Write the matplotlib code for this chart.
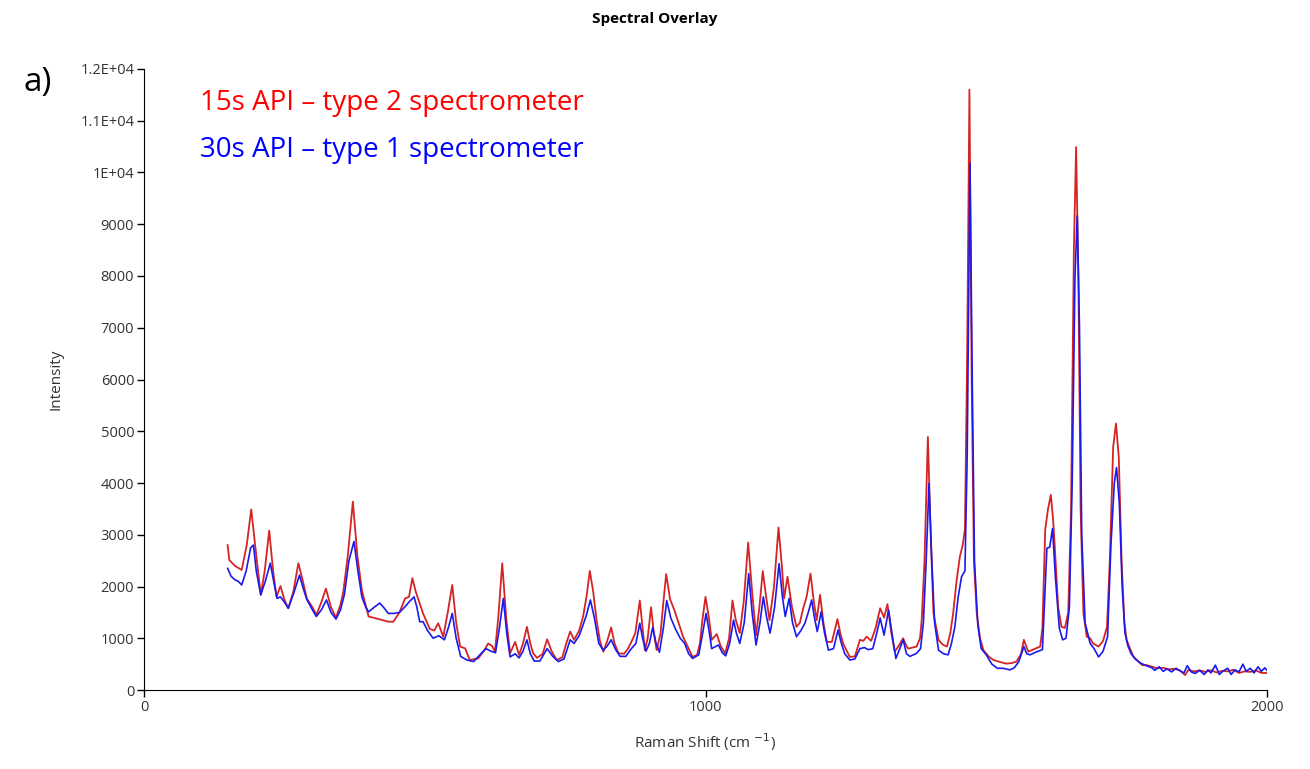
import matplotlib
matplotlib.use("Agg")
import matplotlib.pyplot as plt

# spectrum 1 (red) : 15s API, type 2 spectrometer
red_x = [149, 152, 162, 174, 183, 191, 200, 208, 215, 223, 230, 236, 243, 250, 257, 266, 275, 282, 290, 300,
         307, 316, 324, 333, 342, 350, 355, 363, 372, 380, 388, 400, 415, 425, 435, 444, 455, 465, 472, 478,
         484, 489, 497, 509, 517, 524, 533, 541, 549, 556, 563, 572, 580, 595, 605, 613, 620, 625, 631, 638,
         645, 652, 661, 668, 675, 682, 688, 693, 700, 710, 718, 726, 735, 745, 752, 759, 766, 775, 782, 788,
         794, 800, 806, 812, 818, 825, 832, 838, 845, 855, 862, 868, 875, 883, 888, 892, 897, 903, 908, 913,
         920, 925, 930, 937, 944, 952, 960, 970, 977, 985, 990, 995, 1000, 1006, 1011, 1020, 1027, 1035, 1042, 1048,
         1054, 1061, 1068, 1076, 1083, 1090, 1096, 1102, 1108, 1114, 1122, 1130, 1136, 1140, 1146, 1154, 1162, 1168, 1174, 1180,
         1187, 1193, 1198, 1204, 1210, 1216, 1225, 1235, 1240, 1245, 1257, 1266, 1275, 1281, 1287, 1295, 1303, 1311, 1318, 1324,
         1331, 1337, 1345, 1352, 1357, 1361, 1376, 1382, 1385, 1390, 1396, 1401, 1406, 1415, 1422, 1430, 1436, 1441, 1447, 1453,
         1458, 1462, 1466, 1470, 1474, 1478, 1483, 1489, 1495, 1505, 1513, 1525, 1536, 1545, 1554, 1562, 1567, 1571, 1575, 1585,
         1596, 1600, 1605, 1610, 1615, 1619, 1622, 1628, 1634, 1640, 1646, 1651, 1656, 1660, 1664, 1668, 1673, 1679, 1685, 1690,
         1700, 1708, 1715, 1720, 1726, 1731, 1736, 1741, 1746, 1750, 1756, 1762, 1770, 1778, 1786, 1795, 1805, 1815, 1825, 1835,
         1845, 1854, 1860, 1870, 1880, 1890, 1900, 1910, 1920, 1930, 1940, 1950, 1960, 1970, 1980, 1990, 2000]
red_y = [2800, 2510, 2400, 2320, 2800, 3490, 2600, 1840, 2300, 3080, 2300, 1800, 2010, 1750, 1580, 1900, 2450, 2150, 1770, 1600,
         1450, 1700, 1960, 1600, 1400, 1650, 1900, 2600, 3640, 2600, 1930, 1420, 1380, 1350, 1320, 1320, 1500, 1770, 1800, 2160,
         1900, 1740, 1480, 1180, 1150, 1290, 1030, 1500, 2030, 1300, 840, 805, 580, 610, 750, 900, 850, 740, 1400, 2450,
         1400, 710, 930, 680, 900, 1220, 900, 710, 620, 700, 980, 750, 580, 630, 900, 1130, 970, 1150, 1420, 1800,
         2300, 1900, 1350, 950, 740, 950, 1210, 900, 710, 700, 800, 930, 1100, 1730, 1200, 770, 1000, 1600, 1100, 770,
         1100, 1700, 2240, 1750, 1560, 1300, 1030, 800, 640, 680, 900, 1400, 1800, 1400, 970, 1080, 850, 710, 1000, 1730,
         1350, 1100, 1700, 2850, 1900, 1060, 1600, 2300, 1800, 1350, 2000, 3140, 2400, 1770, 2190, 1600, 1220, 1300, 1580, 1800,
         2250, 1700, 1350, 1840, 1300, 930, 930, 1370, 1100, 900, 640, 650, 970, 950, 1030, 950, 1200, 1580, 1400, 1660,
         1100, 740, 870, 1000, 870, 800, 840, 1000, 1350, 2500, 4890, 3000, 1480, 970, 880, 840, 1100, 1480, 2100, 2580,
         2800, 3100, 6500, 11600, 6000, 2500, 1480, 1000, 770, 640, 580, 540, 510, 520, 550, 700, 970, 850, 740, 790,
         840, 1200, 3100, 3500, 3770, 3300, 2770, 1600, 1220, 1200, 1500, 3500, 8500, 10490, 8000, 3500, 1480, 1030, 1000, 900,
         840, 950, 1220, 2500, 4700, 5150, 4500, 2500, 1300, 970, 800, 650, 560, 480, 480, 450, 420, 430, 400, 410,
         380, 290, 390, 360, 380, 350, 380, 340, 370, 360, 390, 330, 360, 350, 380, 330, 330]

# spectrum 2 (blue) : 30s API, type 1 spectrometer
blue_x = [149, 155, 162, 168, 174, 182, 190, 195, 200, 208, 216, 225, 231, 237, 243, 250, 257, 266, 277, 284,
          290, 300, 307, 316, 325, 333, 342, 350, 357, 365, 374, 381, 388, 395, 400, 410, 420, 428, 435, 445,
          455, 465, 472, 481, 486, 491, 497, 505, 515, 525, 535, 542, 549, 556, 564, 575, 587, 600, 609, 618,
          626, 633, 640, 646, 652, 661, 668, 675, 682, 688, 695, 705, 718, 728, 738, 748, 759, 766, 775, 782,
          788, 795, 802, 810, 818, 825, 832, 840, 848, 858, 868, 876, 883, 888, 894, 900, 906, 912, 918, 925,
          931, 938, 946, 955, 963, 970, 977, 988, 995, 1001, 1007, 1011, 1023, 1030, 1036, 1043, 1050, 1055, 1061, 1069,
          1077, 1083, 1090, 1097, 1103, 1109, 1115, 1123, 1131, 1137, 1142, 1149, 1155, 1162, 1170, 1177, 1183, 1189, 1194, 1199,
          1206, 1212, 1219, 1228, 1236, 1242, 1248, 1257, 1266, 1275, 1283, 1290, 1298, 1305, 1311, 1318, 1326, 1332, 1339, 1346,
          1352, 1358, 1364, 1376, 1383, 1388, 1393, 1398, 1403, 1408, 1415, 1424, 1432, 1438, 1444, 1450, 1456, 1462, 1466, 1471,
          1475, 1479, 1485, 1491, 1500, 1510, 1520, 1530, 1542, 1550, 1558, 1567, 1572, 1578, 1590, 1600, 1605, 1608, 1613, 1618,
          1623, 1630, 1636, 1642, 1648, 1653, 1658, 1662, 1666, 1670, 1676, 1685, 1692, 1700, 1708, 1716, 1722, 1728, 1732, 1737,
          1742, 1747, 1752, 1758, 1765, 1775, 1785, 1795, 1800, 1808, 1815, 1822, 1830, 1838, 1845, 1852, 1858, 1865, 1872, 1880,
          1888, 1895, 1900, 1908, 1915, 1922, 1930, 1936, 1943, 1950, 1957, 1963, 1970, 1977, 1984, 1990, 1996, 2000]
blue_y = [2350, 2200, 2130, 2100, 2030, 2300, 2750, 2800, 2300, 1840, 2100, 2450, 2100, 1770, 1800, 1700, 1580, 1850, 2220, 1950,
          1750, 1550, 1420, 1550, 1740, 1500, 1370, 1550, 1850, 2500, 2870, 2300, 1800, 1600, 1510, 1600, 1680, 1580, 1480, 1480,
          1500, 1610, 1700, 1800, 1600, 1320, 1320, 1150, 1000, 1050, 970, 1200, 1480, 1000, 650, 580, 550, 700, 800, 750,
          720, 1200, 1770, 1100, 640, 700, 620, 750, 970, 700, 560, 560, 800, 650, 550, 600, 970, 900, 1050, 1260,
          1450, 1740, 1400, 900, 770, 850, 970, 780, 650, 650, 800, 900, 1290, 1000, 750, 900, 1210, 900, 730, 1200,
          1730, 1400, 1190, 1000, 900, 700, 610, 680, 1100, 1480, 1100, 800, 870, 720, 660, 900, 1350, 1100, 900, 1300,
          2250, 1500, 870, 1300, 1800, 1400, 1100, 1600, 2440, 1800, 1420, 1770, 1300, 1030, 1150, 1290, 1500, 1740, 1400, 1130,
          1510, 1100, 770, 800, 1160, 900, 700, 580, 600, 800, 820, 780, 800, 1100, 1390, 1060, 1550, 1100, 610, 800,
          970, 700, 650, 710, 800, 1300, 2500, 3990, 2500, 1300, 770, 700, 680, 900, 1220, 1800, 2190, 2300, 4500, 10180,
          6000, 2500, 1250, 800, 680, 500, 420, 420, 390, 430, 550, 840, 700, 680, 740, 780, 2000, 2740, 2760, 3120,
          2200, 1200, 970, 1000, 1600, 4000, 8000, 9160, 7000, 3000, 1300, 900, 800, 640, 750, 1030, 2800, 4000, 4300, 3600,
          2000, 1100, 860, 700, 600, 520, 470, 430, 380, 450, 360, 410, 350, 420, 370, 330, 470, 350, 320, 380,
          300, 390, 330, 480, 300, 370, 420, 300, 390, 350, 500, 360, 420, 330, 450, 360, 430, 380]

y_ticks = [0, 1000, 2000, 3000, 4000, 5000, 6000, 7000, 8000, 9000, 10000, 11000, 12000]
y_labels = ["0", "1000", "2000", "3000", "4000", "5000", "6000", "7000", "8000", "9000",
            "1E+04", "1.1E+04", "1.2E+04"]
x_ticks = [0, 1000, 2000]

plt.rcParams["font.family"] = ["Open Sans", "DejaVu Sans"]

fig = plt.figure(figsize=(13.1, 7.69), dpi=100)
ax = fig.add_axes([0.1099, 0.1027, 0.8573, 0.8076])

ax.plot(red_x, red_y, color="#d42424", lw=1.3)
ax.plot(blue_x, blue_y, color="#1a1aee", lw=1.2)

ax.set_xlim(0, 2000)
ax.set_ylim(0, 12000)
ax.set_yticks(y_ticks)
ax.set_yticklabels(y_labels)
ax.set_xticks(x_ticks)
ax.tick_params(direction="out", length=5, width=1, labelsize=10.5, labelcolor="#333333", pad=2)
for s in ["top", "right"]:
    ax.spines[s].set_visible(False)

ax.set_ylabel("Intensity", fontsize=11, color="#333333", labelpad=12)
ax.set_xlabel("Raman Shift (cm $^{-1}$)", fontsize=11, color="#333333", labelpad=12)

fig.text(0.5, 0.975, "Spectral Overlay", ha="center", va="center", fontsize=11, fontweight="bold")
fig.text(0.018, 0.893, "a)", ha="left", va="center", fontsize=24)

ax.text(0.05, 0.945, "15s API \u2013 type 2 spectrometer", transform=ax.transAxes,
        color="red", fontsize=20, va="center")
ax.text(0.05, 0.87, "30s API \u2013 type 1 spectrometer", transform=ax.transAxes,
        color="blue", fontsize=20, va="center")

fig.savefig("out.png", dpi=100)
